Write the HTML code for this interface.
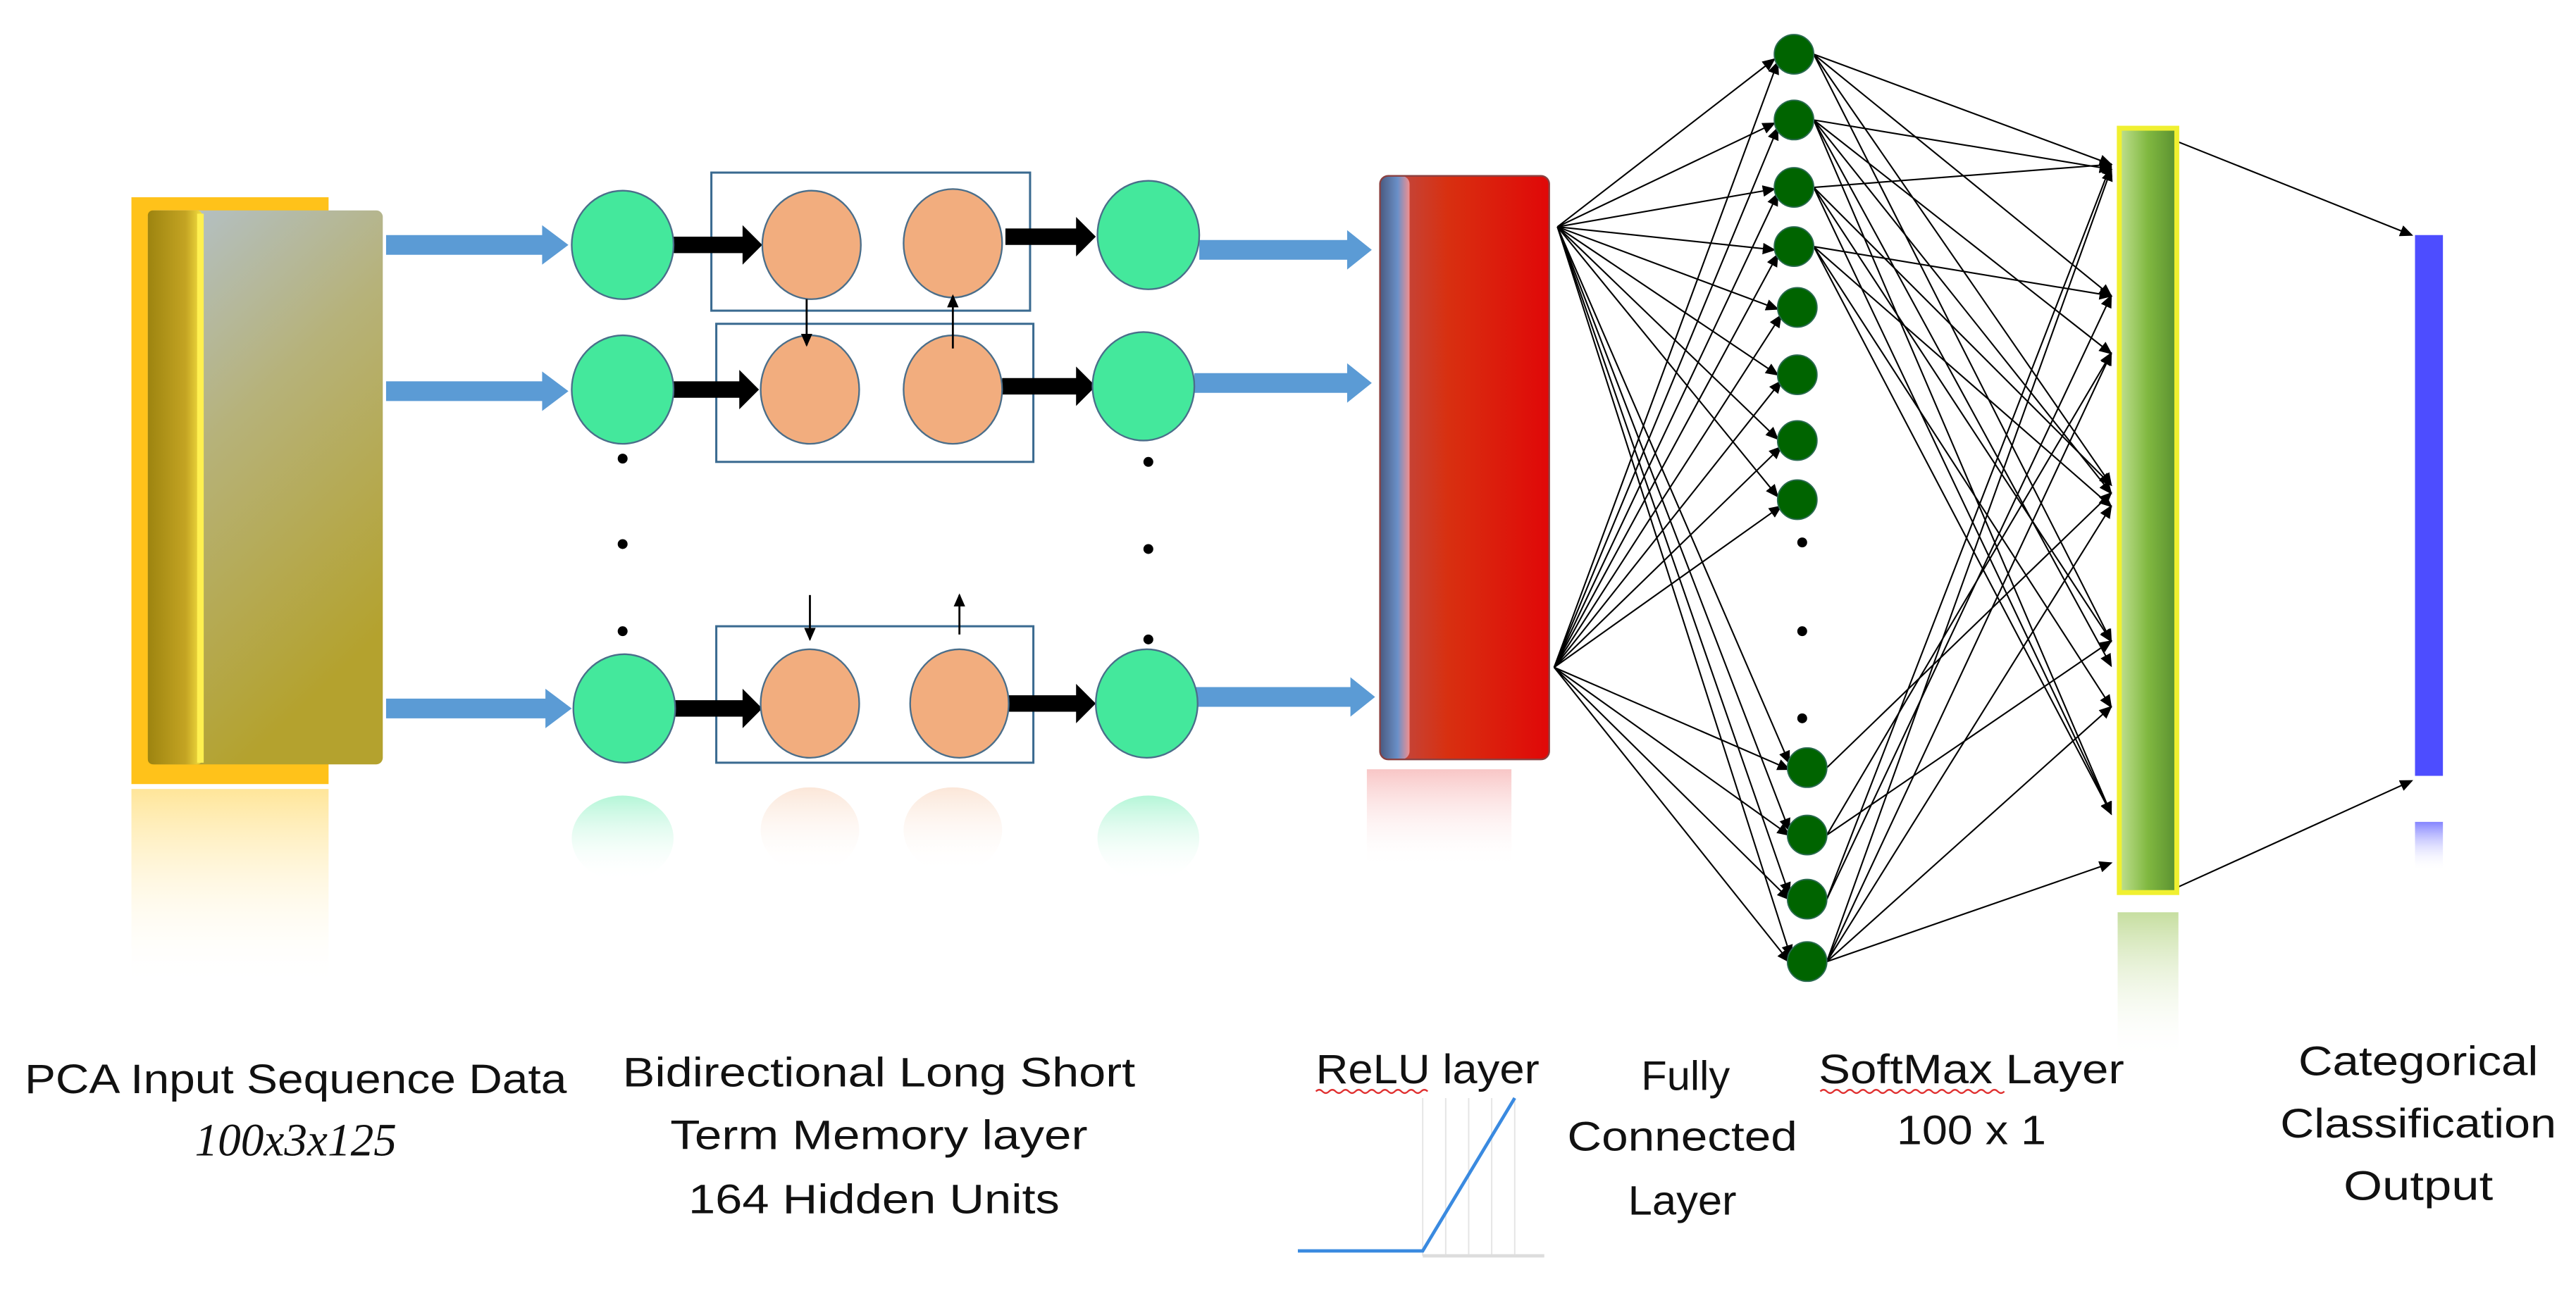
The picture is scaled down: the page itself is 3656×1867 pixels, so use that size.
<!DOCTYPE html>
<html><head><meta charset="utf-8"><style>
html,body{margin:0;padding:0;background:#fff}
svg{display:block}
text{font-family:"Liberation Sans",sans-serif;fill:#111}
</style></head><body>
<svg width="3656" height="1867" viewBox="0 0 1568 800" preserveAspectRatio="none" xmlns="http://www.w3.org/2000/svg">
<defs>
<marker id="ah" markerWidth="8" markerHeight="8" refX="7" refY="4" orient="auto" markerUnits="userSpaceOnUse"><path d="M0,0.5 L8,4 L0,7.5 z" fill="#000"/></marker>
<linearGradient id="gold" x1="0" y1="0" x2="0.4" y2="1"><stop offset="0" stop-color="#b3c2d0"/><stop offset="0.45" stop-color="#b6b27a"/><stop offset="1" stop-color="#b4a22e"/></linearGradient>
<linearGradient id="goldside" x1="0" y1="0" x2="1" y2="0"><stop offset="0" stop-color="#9d8410"/><stop offset="0.7" stop-color="#c4a423"/><stop offset="1" stop-color="#f5e040"/></linearGradient>
<linearGradient id="goldrefl" x1="0" y1="0" x2="0" y2="1"><stop offset="0" stop-color="#ffcc33" stop-opacity="0.5"/><stop offset="1" stop-color="#fff" stop-opacity="0"/></linearGradient>
<linearGradient id="red" x1="0" y1="0" x2="1" y2="0"><stop offset="0" stop-color="#b85050"/><stop offset="0.4" stop-color="#d83010"/><stop offset="1" stop-color="#e00808"/></linearGradient>
<linearGradient id="redside" x1="0" y1="0" x2="1" y2="0"><stop offset="0" stop-color="#4a5a80"/><stop offset="0.6" stop-color="#6a90c8"/><stop offset="1" stop-color="#f09090"/></linearGradient>
<linearGradient id="redrefl" x1="0" y1="0" x2="0" y2="1"><stop offset="0" stop-color="#f08080" stop-opacity="0.45"/><stop offset="1" stop-color="#fff" stop-opacity="0"/></linearGradient>
<linearGradient id="green" x1="0" y1="0" x2="1" y2="0"><stop offset="0" stop-color="#c0e090"/><stop offset="0.5" stop-color="#80b840"/><stop offset="1" stop-color="#5a9030"/></linearGradient>
<linearGradient id="greenrefl" x1="0" y1="0" x2="0" y2="1"><stop offset="0" stop-color="#a0c860" stop-opacity="0.6"/><stop offset="1" stop-color="#fff" stop-opacity="0"/></linearGradient>
<linearGradient id="bluerefl" x1="0" y1="0" x2="0" y2="1"><stop offset="0" stop-color="#5050ff" stop-opacity="0.7"/><stop offset="1" stop-color="#fff" stop-opacity="0"/></linearGradient>
<linearGradient id="gcrefl" x1="0" y1="0" x2="0" y2="1"><stop offset="0" stop-color="#44e89c" stop-opacity="0.4"/><stop offset="1" stop-color="#fff" stop-opacity="0"/></linearGradient>
<linearGradient id="ocrefl" x1="0" y1="0" x2="0" y2="1"><stop offset="0" stop-color="#f2ad7e" stop-opacity="0.3"/><stop offset="1" stop-color="#fff" stop-opacity="0"/></linearGradient>
</defs>

<rect x="80" y="120" width="120" height="357" fill="#ffc21a"/>
<rect x="80" y="480" width="120" height="120" fill="url(#goldrefl)"/>
<rect x="90" y="128" width="143" height="337" rx="4" fill="url(#gold)"/>
<rect x="90" y="128" width="33" height="337" rx="3" fill="url(#goldside)"/>
<rect x="120" y="130" width="4" height="334" fill="#fff050"/>

<g fill="#5b9bd5">
<path d="M235,143 L330,143 L330,137 L346,149 L330,161 L330,155 L235,155z"/>
<path d="M235,232 L330,232 L330,226 L346,238 L330,250 L330,244 L235,244z"/>
<path d="M235,425 L332,425 L332,419 L348,431 L332,443 L332,437 L235,437z"/>
<path d="M730,146 L820,146 L820,140 L835,152 L820,164 L820,158 L730,158z"/>
<path d="M727,227 L820,227 L820,221 L835,233 L820,245 L820,239 L727,239z"/>
<path d="M728,418 L822,418 L822,412 L837,424 L822,436 L822,430 L728,430z"/>
</g>

<g fill="none" stroke="#3a6a90" stroke-width="1.3">
<rect x="433" y="105" width="194" height="84"/>
<rect x="436" y="197" width="193" height="84"/>
<rect x="436" y="381" width="193" height="83"/>
</g>

<g fill="#000">
<path d="M410,144 L452,144 L452,137 L464,149 L452,161 L452,154 L410,154z"/>
<path d="M612,139 L655,139 L655,132 L667,144 L655,156 L655,149 L612,149z"/>
<path d="M406,232 L450,232 L450,225 L462,237 L450,249 L450,242 L406,242z"/>
<path d="M610,230 L655,230 L655,223 L667,235 L655,247 L655,240 L610,240z"/>
<path d="M410,426 L452,426 L452,419 L464,431 L452,443 L452,436 L410,436z"/>
<path d="M612,423 L655,423 L655,416 L667,428 L655,440 L655,433 L612,433z"/>
</g>

<g>
<ellipse cx="379" cy="510" rx="31" ry="26" fill="url(#gcrefl)"/>
<ellipse cx="493" cy="505" rx="30" ry="26" fill="url(#ocrefl)"/>
<ellipse cx="580" cy="505" rx="30" ry="26" fill="url(#ocrefl)"/>
<ellipse cx="699" cy="510" rx="31" ry="26" fill="url(#gcrefl)"/>
</g>

<g stroke="#4a6e8a" stroke-width="1">
<ellipse cx="379" cy="149" rx="31" ry="33" fill="#44e89c"/>
<ellipse cx="379" cy="237" rx="31" ry="33" fill="#44e89c"/>
<ellipse cx="380" cy="431" rx="31" ry="33" fill="#44e89c"/>
<ellipse cx="699" cy="143" rx="31" ry="33" fill="#44e89c"/>
<ellipse cx="696" cy="235" rx="31" ry="33" fill="#44e89c"/>
<ellipse cx="698" cy="428" rx="31" ry="33" fill="#44e89c"/>
<ellipse cx="494" cy="149" rx="30" ry="33" fill="#f2ad7e"/>
<ellipse cx="580" cy="148" rx="30" ry="33" fill="#f2ad7e"/>
<ellipse cx="493" cy="237" rx="30" ry="33" fill="#f2ad7e"/>
<ellipse cx="580" cy="237" rx="30" ry="33" fill="#f2ad7e"/>
<ellipse cx="493" cy="428" rx="30" ry="33" fill="#f2ad7e"/>
<ellipse cx="584" cy="428" rx="30" ry="33" fill="#f2ad7e"/>
</g>

<g stroke="#000" stroke-width="1.2">
<line x1="491" y1="182" x2="491" y2="210" marker-end="url(#ah)"/>
<line x1="580" y1="212" x2="580" y2="180" marker-end="url(#ah)"/>
<line x1="493" y1="362" x2="493" y2="389" marker-end="url(#ah)"/>
<line x1="584" y1="386" x2="584" y2="362" marker-end="url(#ah)"/>
</g>

<g fill="#000">
<circle cx="379" cy="279" r="3"/><circle cx="379" cy="331" r="3"/><circle cx="379" cy="384" r="3"/>
<circle cx="699" cy="281" r="3"/><circle cx="699" cy="334" r="3"/><circle cx="699" cy="389" r="3"/>
<circle cx="1097" cy="330" r="3"/><circle cx="1097" cy="384" r="3"/><circle cx="1097" cy="437" r="3"/>
</g>

<rect x="832" y="468" width="88" height="60" fill="url(#redrefl)"/>
<rect x="840" y="107" width="103" height="355" rx="5" fill="url(#red)"/>
<rect x="840" y="107" width="18" height="355" rx="5" fill="url(#redside)"/>
<rect x="840" y="107" width="103" height="355" rx="5" fill="none" stroke="#8a4040" stroke-width="1"/>

<g stroke="#000" stroke-width="0.9" marker-end="url(#ah)">
<line x1="948" y1="138" x2="1080" y2="36"/>
<line x1="948" y1="138" x2="1080" y2="75"/>
<line x1="948" y1="138" x2="1080" y2="115"/>
<line x1="948" y1="138" x2="1080" y2="152"/>
<line x1="948" y1="138" x2="1082" y2="188"/>
<line x1="948" y1="138" x2="1082" y2="228"/>
<line x1="948" y1="138" x2="1082" y2="267"/>
<line x1="948" y1="138" x2="1082" y2="302"/>
<line x1="948" y1="138" x2="1089" y2="464"/>
<line x1="948" y1="138" x2="1089" y2="505"/>
<line x1="948" y1="138" x2="1089" y2="544"/>
<line x1="948" y1="138" x2="1090" y2="582"/>
<line x1="946" y1="406" x2="1082" y2="38"/>
<line x1="946" y1="406" x2="1082" y2="78"/>
<line x1="946" y1="406" x2="1082" y2="118"/>
<line x1="946" y1="406" x2="1082" y2="155"/>
<line x1="946" y1="406" x2="1084" y2="192"/>
<line x1="946" y1="406" x2="1084" y2="232"/>
<line x1="946" y1="406" x2="1084" y2="272"/>
<line x1="946" y1="406" x2="1084" y2="308"/>
<line x1="946" y1="406" x2="1089" y2="468"/>
<line x1="946" y1="406" x2="1089" y2="508"/>
<line x1="946" y1="406" x2="1089" y2="547"/>
<line x1="946" y1="406" x2="1089" y2="585"/>
</g>

<g stroke="#000" stroke-width="0.9" marker-end="url(#ah)">
<line x1="1104" y1="33" x2="1285" y2="100"/>
<line x1="1104" y1="33" x2="1285" y2="180"/>
<line x1="1104" y1="33" x2="1285" y2="295"/>
<line x1="1104" y1="33" x2="1285" y2="390"/>
<line x1="1104" y1="73" x2="1285" y2="103"/>
<line x1="1104" y1="73" x2="1285" y2="215"/>
<line x1="1104" y1="73" x2="1285" y2="300"/>
<line x1="1104" y1="73" x2="1285" y2="405"/>
<line x1="1104" y1="73" x2="1285" y2="495"/>
<line x1="1104" y1="114" x2="1285" y2="100"/>
<line x1="1104" y1="114" x2="1285" y2="295"/>
<line x1="1104" y1="114" x2="1285" y2="390"/>
<line x1="1104" y1="114" x2="1285" y2="495"/>
<line x1="1104" y1="150" x2="1285" y2="180"/>
<line x1="1104" y1="150" x2="1285" y2="308"/>
<line x1="1104" y1="150" x2="1285" y2="430"/>
<line x1="1104" y1="150" x2="1285" y2="495"/>
<line x1="1112" y1="585" x2="1285" y2="103"/>
<line x1="1112" y1="585" x2="1285" y2="215"/>
<line x1="1112" y1="585" x2="1285" y2="308"/>
<line x1="1112" y1="585" x2="1285" y2="430"/>
<line x1="1112" y1="585" x2="1285" y2="525"/>
<line x1="1112" y1="547" x2="1285" y2="100"/>
<line x1="1112" y1="547" x2="1285" y2="180"/>
<line x1="1112" y1="508" x2="1285" y2="215"/>
<line x1="1112" y1="508" x2="1285" y2="390"/>
<line x1="1112" y1="467" x2="1285" y2="300"/>
<line x1="1310" y1="80" x2="1468" y2="143"/>
<line x1="1325" y1="540" x2="1468" y2="475"/>
</g>

<g fill="#006400" stroke="#2a6a50" stroke-width="0.8">
<circle cx="1092" cy="33" r="12"/><circle cx="1092" cy="73" r="12"/><circle cx="1092" cy="114" r="12"/><circle cx="1092" cy="150" r="12"/>
<circle cx="1094" cy="187" r="12"/><circle cx="1094" cy="228" r="12"/><circle cx="1094" cy="268" r="12"/><circle cx="1094" cy="304" r="12"/>
<circle cx="1100" cy="467" r="12"/><circle cx="1100" cy="508" r="12"/><circle cx="1100" cy="547" r="12"/><circle cx="1100" cy="585" r="12"/>
</g>

<rect x="1289" y="555" width="37" height="90" fill="url(#greenrefl)"/>
<rect x="1290" y="78" width="35" height="465" fill="url(#green)" stroke="#f0f030" stroke-width="3"/>

<rect x="1470" y="500" width="17" height="30" fill="url(#bluerefl)"/>
<rect x="1470" y="143" width="17" height="329" fill="#4d4dff"/>

<g stroke="#e4e4e4" stroke-width="0.8">
<line x1="866" y1="668" x2="866" y2="764"/><line x1="880" y1="668" x2="880" y2="764"/><line x1="894" y1="668" x2="894" y2="764"/><line x1="908" y1="668" x2="908" y2="764"/><line x1="922" y1="668" x2="922" y2="764"/>
</g>
<polyline points="790,761 866,761 922,668" fill="none" stroke="#3a8ae0" stroke-width="2"/>
<line x1="866" y1="764" x2="940" y2="764" stroke="#ddd" stroke-width="2"/>

<g font-size="25" text-anchor="middle">
<text x="180" y="665" textLength="330" lengthAdjust="spacingAndGlyphs">PCA Input Sequence Data</text>
<text x="180" y="703" font-style="italic" font-size="28" style="font-family:'Liberation Serif',serif">100x3x125</text>
<text x="535" y="661" textLength="312" lengthAdjust="spacingAndGlyphs">Bidirectional Long Short</text>
<text x="535" y="699" textLength="254" lengthAdjust="spacingAndGlyphs">Term Memory layer</text>
<text x="532" y="738" textLength="226" lengthAdjust="spacingAndGlyphs">164 Hidden Units</text>
<text x="869" y="659" textLength="136" lengthAdjust="spacingAndGlyphs">ReLU layer</text>
<text x="1026" y="663" textLength="54" lengthAdjust="spacingAndGlyphs">Fully</text>
<text x="1024" y="700" textLength="140" lengthAdjust="spacingAndGlyphs">Connected</text>
<text x="1024" y="739" textLength="66" lengthAdjust="spacingAndGlyphs">Layer</text>
<text x="1200" y="659" textLength="186" lengthAdjust="spacingAndGlyphs">SoftMax Layer</text>
<text x="1200" y="696" textLength="91" lengthAdjust="spacingAndGlyphs">100 x 1</text>
<text x="1472" y="654" textLength="146" lengthAdjust="spacingAndGlyphs">Categorical</text>
<text x="1472" y="692" textLength="168" lengthAdjust="spacingAndGlyphs">Classification</text>
<text x="1472" y="730" textLength="91" lengthAdjust="spacingAndGlyphs">Output</text>
</g>
<path d="M801,664 q2,-2 4,0 t4,0 t4,0 t4,0 t4,0 t4,0 t4,0 t4,0 t4,0 t4,0 t4,0 t4,0 t4,0 t4,0 t4,0 t4,0 t4,0" fill="none" stroke="#e03030" stroke-width="1"/>
<path d="M1108,664 q2,-2 4,0 t4,0 t4,0 t4,0 t4,0 t4,0 t4,0 t4,0 t4,0 t4,0 t4,0 t4,0 t4,0 t4,0 t4,0 t4,0 t4,0 t4,0 t4,0 t4,0 t4,0 t4,0 t4,0 t4,0 t4,0 t4,0 t4,0 t4,0" fill="none" stroke="#e03030" stroke-width="1"/>
</svg>
</body></html>
